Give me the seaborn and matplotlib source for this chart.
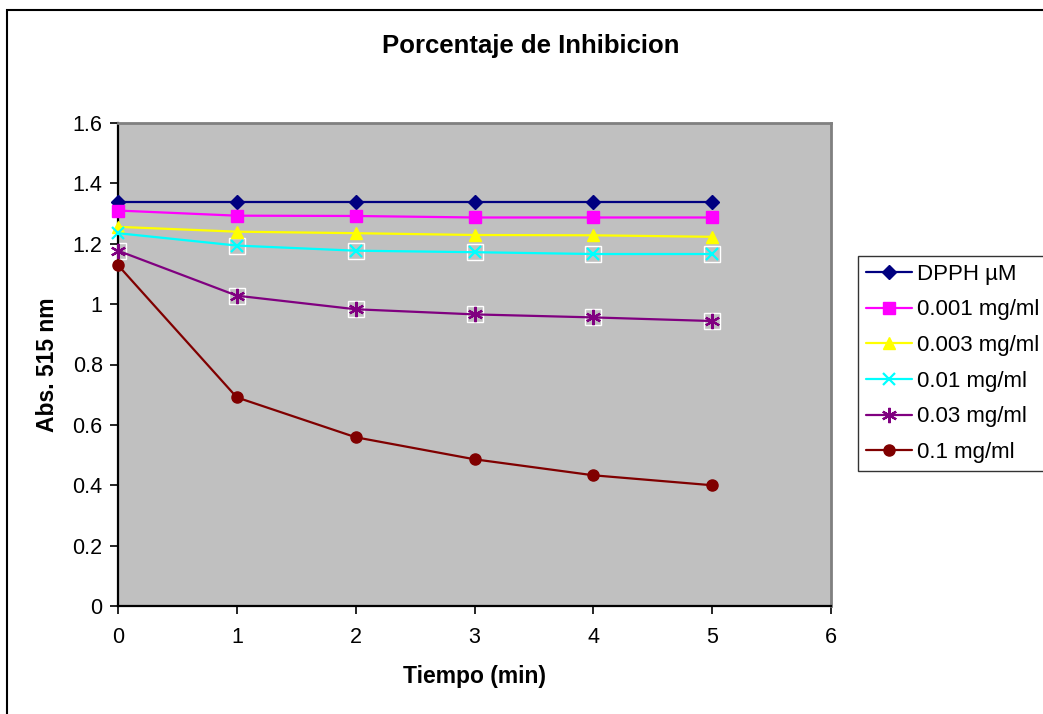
import matplotlib
matplotlib.use("Agg")
import matplotlib.pyplot as plt
import seaborn as sns
import pandas as pd
from matplotlib.patches import Rectangle

sns.set_theme(style="white")
plt.rcParams['font.family'] = ['Liberation Sans', 'DejaVu Sans']
plt.rcParams['text.color'] = 'black'
plt.rcParams['axes.labelcolor'] = 'black'
plt.rcParams['xtick.color'] = 'black'
plt.rcParams['ytick.color'] = 'black'

tiempo = [0, 1, 2, 3, 4, 5]
dpph = [1.338, 1.338, 1.338, 1.338, 1.338, 1.338]
c0001 = [1.310, 1.293, 1.292, 1.287, 1.287, 1.287]
c0003 = [1.256, 1.240, 1.235, 1.229, 1.228, 1.223]
c001 = [1.235, 1.194, 1.177, 1.172, 1.166, 1.166]
c003 = [1.177, 1.028, 0.983, 0.966, 0.956, 0.944]
c01 = [1.129, 0.691, 0.559, 0.486, 0.433, 0.400]
series_names = ["DPPH µM", "0.001 mg/ml", "0.003 mg/ml", "0.01 mg/ml", "0.03 mg/ml", "0.1 mg/ml"]
yticks = [0, 0.2, 0.4, 0.6, 0.8, 1, 1.2, 1.4, 1.6]
ytick_labels = ["0", "0.2", "0.4", "0.6", "0.8", "1", "1.2", "1.4", "1.6"]
xticks = [0, 1, 2, 3, 4, 5, 6]

colors = ["#000080", "#FF00FF", "#FFFF00", "#00FFFF", "#800080", "#800000"]
markers = ["D", "s", "^", "x", (6, 2, 0), "o"]
msizes = [7.5, 8, 9, 9, 11, 8]

df = pd.DataFrame({"Tiempo": tiempo * 6,
                   "Abs": dpph + c0001 + c0003 + c001 + c003 + c01,
                   "Serie": sum([[n] * 6 for n in series_names], [])})

fig = plt.figure(figsize=(10.43, 7.14), dpi=100)
ax = fig.add_axes([118 / 1043, 1 - 606 / 714, (831 - 118) / 1043, (606 - 123) / 714])
ax.set_facecolor("#C0C0C0")

# white square backgrounds behind x / star markers
ax.plot(tiempo[1:], c001[1:], linestyle="none", marker="s", markersize=11,
        markerfacecolor="none", markeredgecolor="white", markeredgewidth=1.0, zorder=2)
ax.plot(tiempo, c003, linestyle="none", marker="s", markersize=11,
        markerfacecolor="none", markeredgecolor="white", markeredgewidth=1.0, zorder=2)

for i, name in enumerate(series_names):
    sub = df[df["Serie"] == name]
    sns.lineplot(data=sub, x="Tiempo", y="Abs", ax=ax, color=colors[i], marker=markers[i],
                 markersize=msizes[i], markeredgecolor=colors[i], markerfacecolor=colors[i],
                 markeredgewidth=1.6 if i in (3, 4) else 1, linewidth=1.6, label=name,
                 zorder=3, clip_on=False)

ax.set_xlim(0, 6)
ax.set_ylim(0, 1.6)
ax.set_xticks(xticks)
ax.set_xticklabels([str(v) for v in xticks])
ax.set_yticks(yticks)
ax.set_yticklabels(ytick_labels)
ax.tick_params(axis="both", direction="out", length=6, width=1.2, color="black",
               labelsize=15.5, left=True, bottom=True)
ax.tick_params(axis="x", pad=9)
ax.tick_params(axis="y", pad=5)
for s in ["left", "bottom"]:
    ax.spines[s].set_color("black")
    ax.spines[s].set_linewidth(1.6)
for s in ["top", "right"]:
    ax.spines[s].set_color("#808080")
    ax.spines[s].set_linewidth(2)

ax.set_xlabel("Tiempo (min)", fontsize=16.5, fontweight="bold", labelpad=12)
ax.set_ylabel("Abs. 515 nm", fontsize=16.5, fontweight="bold", labelpad=10)
fig.text(531 / 1043, 1 - 46 / 714, "Porcentaje de Inhibicion", fontsize=18.5,
         fontweight="bold", ha="center", va="center")

leg = ax.legend(loc="upper left", bbox_to_anchor=(858 / 1043, 1 - 256 / 714),
                bbox_transform=fig.transFigure, frameon=True, fancybox=False,
                fontsize=16, handlelength=2.1, labelspacing=0.66, borderpad=0.35,
                handletextpad=0.2, borderaxespad=0)
leg.get_frame().set_edgecolor("black")
leg.get_frame().set_linewidth(1)

fig.patches.append(Rectangle((7 / 1043, -0.1), 1.2, 1 - 10 / 714 + 0.1, transform=fig.transFigure,
                             fill=False, edgecolor="black", linewidth=1.5))

fig.savefig("out.png", dpi=100)
